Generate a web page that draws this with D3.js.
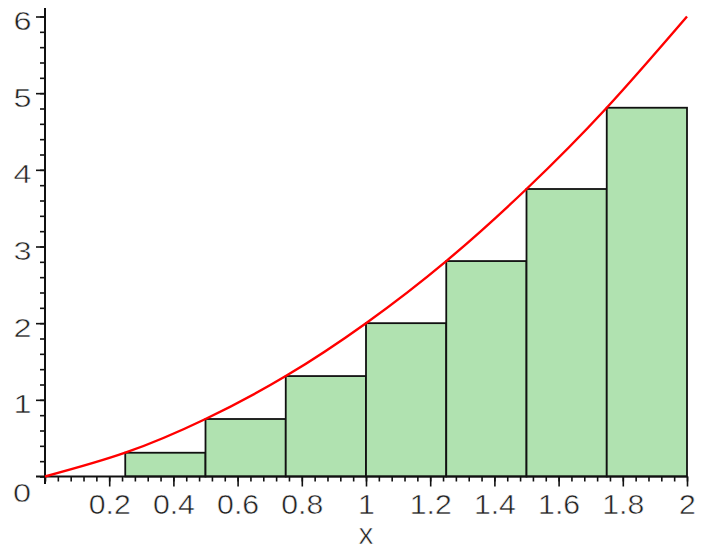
<!DOCTYPE html>
<html>
<head>
<meta charset="utf-8">
<script src="https://cdn.jsdelivr.net/npm/d3@7"></script>
<style>
  html, body { margin: 0; padding: 0; background: #fff; }
  svg { display: block; }
  text { font-family: "Liberation Sans", Arial, sans-serif; fill: #222; stroke: #fff; stroke-width: 0.5px; }
</style>
</head>
<body>
<svg id="chart" width="707" height="550"></svg>
<script>
// Curve samples (x, y) of the red function
const curveX = [0, 0.25, 0.5, 0.75, 1, 1.25, 1.5, 1.75, 2];
const curveY = [0, 0.31, 0.75, 1.31, 2, 2.81, 3.75, 4.81, 6];

// Left-endpoint rectangles: left edge and height, width 0.25
const rectLeft = [0.25, 0.5, 0.75, 1, 1.25, 1.5, 1.75];
const rectHeight = [0.31, 0.75, 1.31, 2, 2.81, 3.75, 4.81];
const rectWidth = 0.25;

// Tick labels
const xTickValues = [0.2, 0.4, 0.6, 0.8, 1, 1.2, 1.4, 1.6, 1.8, 2];
const xTickLabels = ["0.2", "0.4", "0.6", "0.8", "1", "1.2", "1.4", "1.6", "1.8", "2"];
const yTickValues = [1, 2, 3, 4, 5, 6];
const yTickLabels = ["1", "2", "3", "4", "5", "6"];
const xMinorStep = 0.04;
const yMinorStep = 0.2;

const svg = d3.select("#chart");
const x = d3.scaleLinear().domain([0, 2]).range([45, 687]);
const y = d3.scaleLinear().domain([0, 6]).range([476.5, 16.5]);

// Rectangles
svg.append("g").selectAll("rect")
  .data(rectLeft.map((l, i) => ({ l, h: rectHeight[i] })))
  .join("rect")
  .attr("x", d => x(d.l))
  .attr("y", d => y(d.h))
  .attr("width", d => x(d.l + rectWidth) - x(d.l))
  .attr("height", d => y(0) - y(d.h))
  .attr("fill", "#b0e2b0")
  .attr("stroke", "#111")
  .attr("stroke-width", 1.8);

// Minor ticks
const xMinor = d3.range(0, 2 + 1e-9, xMinorStep).map(v => +v.toFixed(2));
const yMinor = d3.range(0, 6 + 1e-9, yMinorStep).map(v => +v.toFixed(2));

const xMinorAxis = svg.append("g")
  .attr("transform", `translate(0,${y(0)})`)
  .call(d3.axisBottom(x).tickValues(xMinor).tickSize(5).tickFormat(""));
const yMinorAxis = svg.append("g")
  .attr("transform", `translate(${x(0)},0)`)
  .call(d3.axisLeft(y).tickValues(yMinor).tickSize(5).tickFormat(""));

// Major axes
const xAxis = svg.append("g")
  .attr("transform", `translate(0,${y(0)})`)
  .call(d3.axisBottom(x).tickValues(xTickValues).tickSize(10)
    .tickFormat((d, i) => xTickLabels[i]));
const yAxis = svg.append("g")
  .attr("transform", `translate(${x(0)},0)`)
  .call(d3.axisLeft(y).tickValues(yTickValues).tickSize(9)
    .tickFormat((d, i) => yTickLabels[i]));

[xMinorAxis, yMinorAxis, xAxis, yAxis].forEach(g => {
  g.select(".domain").remove();
  g.selectAll(".tick line").attr("stroke", "#111").attr("stroke-width", 1.6);
});

xAxis.selectAll(".tick text")
  .attr("font-size", 27)
  .attr("y", 0)
  .attr("dy", 0)
  .attr("transform", "translate(0,37) scale(1.12,1.04)")
  .attr("fill", null);
yAxis.selectAll(".tick text")
  .attr("font-size", 25)
  .attr("x", 0)
  .attr("dy", 0)
  .attr("text-anchor", "middle")
  .attr("transform", "translate(-22.5,13) scale(1.3,1)")
  .attr("fill", null);

// Axis lines
svg.append("line")
  .attr("x1", 36).attr("x2", x(2))
  .attr("y1", y(0)).attr("y2", y(0))
  .attr("stroke", "#111").attr("stroke-width", 2);
svg.append("line")
  .attr("x1", x(0)).attr("x2", x(0))
  .attr("y1", 484).attr("y2", 8)
  .attr("stroke", "#111").attr("stroke-width", 2);

// Origin label
svg.append("text")
  .attr("transform", `translate(22,502) scale(1.3,1)`)
  .attr("text-anchor", "middle")
  .attr("font-size", 25)
  .text("0");

// Axis title
svg.append("text")
  .attr("transform", `translate(${x(1)},544) scale(1.15,1.1)`)
  .attr("text-anchor", "middle")
  .attr("font-size", 26)
  .text("x");

// Red curve
const line = d3.line()
  .x((d, i) => x(curveX[i]))
  .y(d => y(d))
  .curve(d3.curveNatural);
svg.append("path")
  .attr("d", line(curveY))
  .attr("fill", "none")
  .attr("stroke", "#f00")
  .attr("stroke-width", 2.4);
</script>
</body>
</html>
